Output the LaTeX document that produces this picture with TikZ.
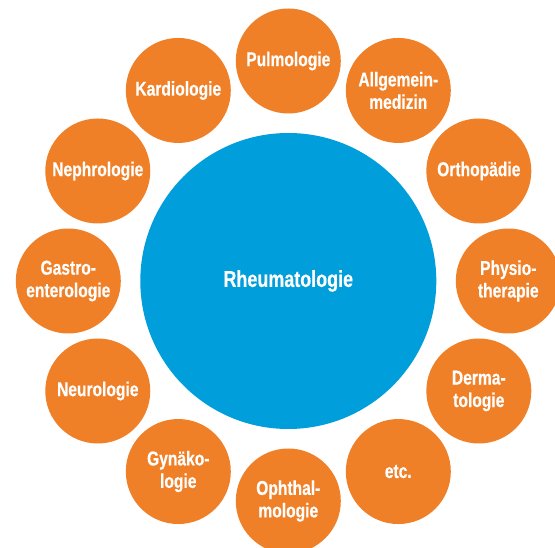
\documentclass[tikz,border=0pt]{standalone}
\usepackage{fontspec}
\newfontfamily\labelfont[FakeStretch=0.78,BoldFeatures={FakeBold=0.4}]{Liberation Sans}
\usepackage{tikz}
\usetikzlibrary{math}
\definecolor{SpokeOrange}{RGB}{240,128,40}
\definecolor{HubBlue}{RGB}{0,158,218}
\tikzset{%
  hub/.style={circle, fill=HubBlue, draw=none, inner sep=0pt, minimum size=296pt,
    text=white, font=\labelfont\bfseries\fontsize{23}{27}\selectfont},
  spoke/.style={circle, fill=SpokeOrange, draw=none, inner sep=0pt, minimum size=105pt,
    text=white, align=center, font=\labelfont\bfseries\fontsize{20}{22.5}\selectfont}
}
\begin{document}
\begin{tikzpicture}[x=1pt,y=1pt]
    \tikzmath{
      \cx=288.3; % hub centre
      \cy=266;
      \orbit=220;% distance hub -- spokes
    }
    \clip (0,0) rectangle (555,547);
    % Hub.
    \node[hub] (rheuma) at (\cx,\cy) {Rheumatologie};
    % Ring of spokes, every 30 degrees.
    \foreach \a/\i/\txt in {90/1/Pulmologie, 60/2/{Allgemein-\\medizin},
        30/3/Orthopädie, 0/4/{Physio-\\therapie}, -30/5/{Derma-\\tologie},
        -60/6/etc., -90/7/{Ophthal-\\mologie}, -120/8/{Gynäko-\\logie},
        -150/9/Neurologie, 180/10/{Gastro-\\enterologie}, 150/11/Nephrologie,
        120/12/Kardiologie}
      \path (rheuma.center) ++(\a:\orbit) node[spoke] (field\i) {\txt};
\end{tikzpicture}
\end{document}
